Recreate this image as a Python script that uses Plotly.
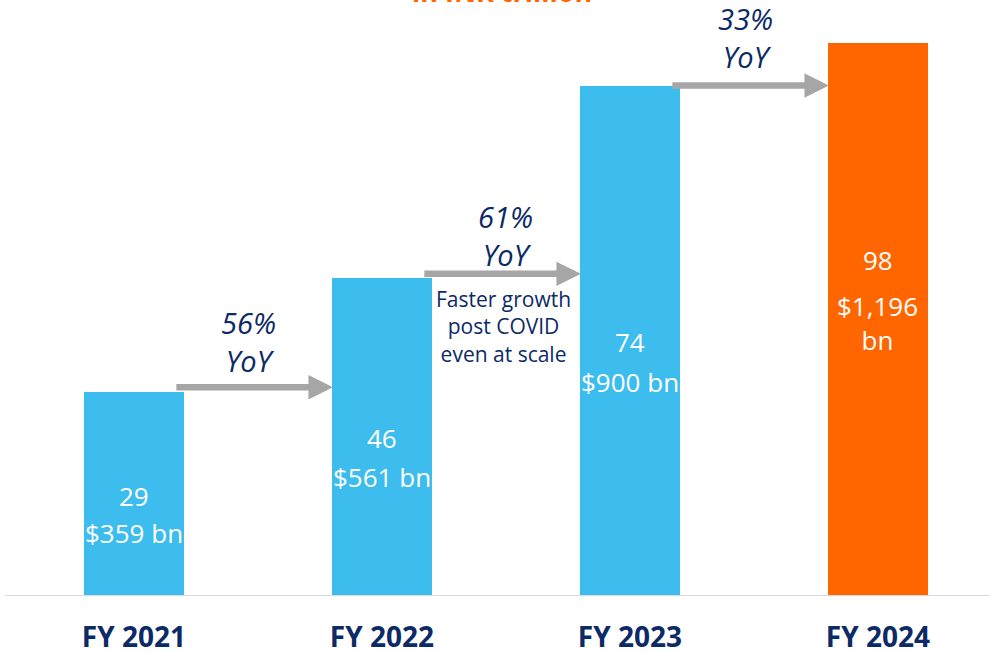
import plotly.graph_objects as go

categories = ["FY 2021", "FY 2022", "FY 2023", "FY 2024"]
volumes = [29, 46, 74, 98]
values_bn = [359, 561, 900, 1196]
value_labels = ["$359 bn", "$561 bn", "$900 bn", "$1,196<br>bn"]
yoy_labels = ["56%<br>YoY", "61%<br>YoY", "33%<br>YoY"]
bar_colors = ["#3DBCEE", "#3DBCEE", "#3DBCEE", "#FF6600"]
note_text = "Faster growth<br>post COVID<br>even at scale"
subtitle = "in INR trillion"

NAVY = "#0B2A66"
GRAY = "#A6A6A6"
YMAX = 975
xs = list(range(len(categories)))
FONT = "Open Sans, Noto Sans, sans-serif"

fig = go.Figure()
fig.add_trace(go.Bar(
    x=xs, y=values_bn, width=0.403,
    marker=dict(color=bar_colors, line=dict(width=0)),
    hoverinfo="skip", showlegend=False,
))

# labels inside bars
num_shift = [-1.5, -1, -1.5, 59.5]
val_shift = [-38.5, -40, -41.5, -3]
for i, (v, vb, lab) in enumerate(zip(volumes, values_bn, value_labels)):
    mid = min(vb, YMAX) / 2
    fig.add_annotation(
        x=i, y=mid, xref="x", yref="y", text=str(v), showarrow=False,
        yshift=num_shift[i], font=dict(family=FONT, size=26, color="white"),
    )
    fig.add_annotation(
        x=i, y=mid, xref="x", yref="y", text=lab, showarrow=False,
        yshift=val_shift[i], font=dict(family=FONT, size=26, color="white"),
        align="center",
    )

# arrows and YoY labels
arrow_lift = [9, 7, 0]
yoy_dx = [0.46, 0.50, 0.468]
yoy_shift = [5, -2, 8]
for i in range(len(categories) - 1):
    y_arrow = values_bn[i] + arrow_lift[i]
    fig.add_annotation(
        x=i + 0.802, y=y_arrow, ax=i + 0.165, ay=y_arrow,
        xref="x", yref="y", axref="x", ayref="y",
        text="", showarrow=True, arrowhead=2, arrowsize=0.75,
        arrowwidth=6.5, arrowcolor=GRAY, standoff=0,
    )
    fig.add_annotation(
        x=i + yoy_dx[i], y=y_arrow, xref="x", yref="y",
        text=f"<i>{yoy_labels[i]}</i>", showarrow=False,
        yanchor="bottom", yshift=yoy_shift[i],
        font=dict(family=FONT, size=29, color=NAVY),
        align="center",
    )

# note under second arrow
fig.add_annotation(
    x=1.492, y=values_bn[1], xref="x", yref="y",
    text=note_text, showarrow=False, yanchor="top", yshift=-5,
    font=dict(family=FONT, size=21, color=NAVY), align="center",
)

# cut-off subtitle at top
fig.add_annotation(
    x=0.505, y=1, xref="paper", yref="paper", text=f"<b>{subtitle}</b>",
    showarrow=False, yanchor="bottom", yshift=31,
    font=dict(family=FONT, size=27, color="#FF6600"),
)

# baseline
fig.add_shape(type="line", xref="paper", yref="y", x0=0, x1=1, y0=0, y1=0,
              line=dict(color="#D9D9D9", width=2))

fig.update_layout(
    width=990, height=651,
    margin=dict(l=5, r=0, t=43, b=55),
    paper_bgcolor="white", plot_bgcolor="white",
    xaxis=dict(range=[-0.52, 3.452], tickvals=xs, ticktext=categories,
               showgrid=False, zeroline=False, showline=False, ticks="",
               ticklabelstandoff=22, automargin=False,
               tickfont=dict(family=FONT, size=28, color=NAVY, weight="bold")),
    yaxis=dict(range=[0, YMAX], visible=False, showgrid=False, zeroline=False,
               automargin=False),
    bargap=0,
)

fig.write_html("out.html", config={"displayModeBar": False},
               post_script="document.body.style.margin='0px';")
